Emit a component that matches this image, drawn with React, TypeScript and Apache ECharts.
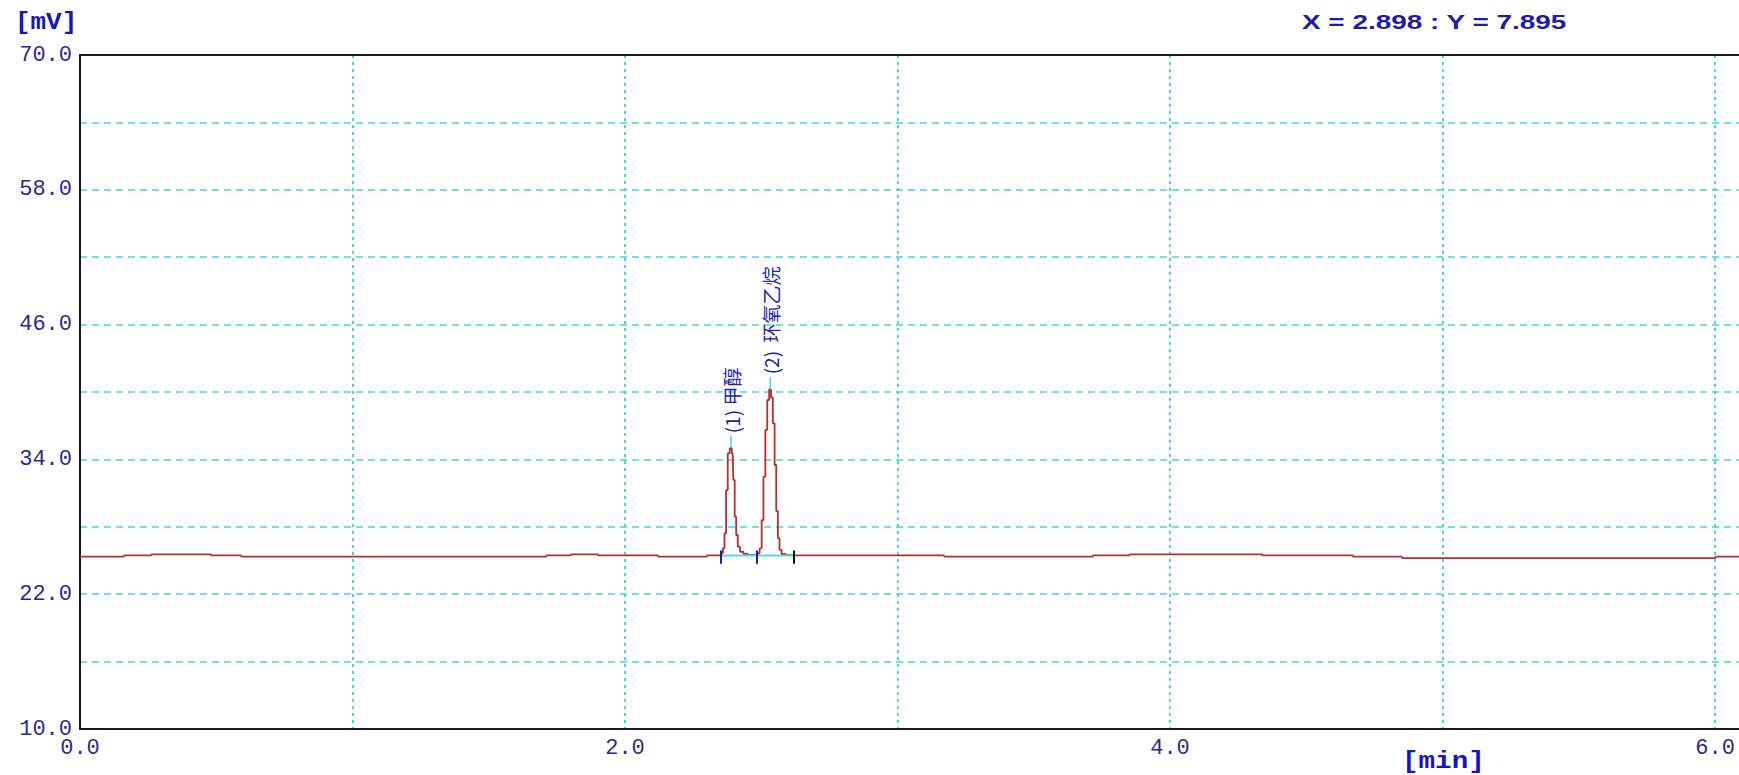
import React, { useEffect, useRef } from "react";
import * as echarts from "echarts";

// ---- axis ticks / labels ----
const xMin = 0;
const xMax = 6.088;
const xStep = 1;
const xLabelValues = [0, 2, 4, 6];
const yMin = 10;
const yMax = 70;
const yStep = 6;
const yLabelValues = [10, 22, 34, 46, 58, 70];

// ---- signal (time in min, value in mV) ----
const baselineBeforeTime = [0, 0.16, 0.165, 0.26, 0.265, 0.48, 0.485, 0.59, 0.595, 1.71, 1.715, 1.8, 1.805, 1.9, 1.905, 2.12, 2.125, 2.3, 2.305, 2.35];
const baselineBeforeValue = [25.34, 25.34, 25.45, 25.45, 25.55, 25.55, 25.45, 25.45, 25.34, 25.34, 25.45, 25.45, 25.55, 25.55, 25.45, 25.45, 25.34, 25.34, 25.45, 25.45];

const peak1Time = [2.356, 2.362, 2.368, 2.374, 2.38, 2.389, 2.395, 2.4, 2.405, 2.411, 2.417, 2.427, 2.442, 2.46, 2.484];
const peak1Value = [25.64, 26.08, 27.42, 31.27, 34.54, 35.0, 34.54, 32.17, 28.9, 27.27, 26.23, 25.78, 25.58, 25.5, 25.48];

const peak2Time = [2.49, 2.498, 2.505, 2.511, 2.519, 2.525, 2.533, 2.539, 2.546, 2.552, 2.558, 2.564, 2.57, 2.579, 2.6, 2.62];
const peak2Value = [25.64, 26.08, 28.6, 32.46, 36.62, 39.29, 40.24, 39.5, 37.2, 33.5, 29.4, 27.0, 25.95, 25.58, 25.47, 25.45];

const baselineAfterTime = [3.17, 3.175, 3.716, 3.72, 3.85, 3.855, 4.338, 4.343, 4.67, 4.675, 4.85, 4.855, 6.0, 6.005, 6.088];
const baselineAfterValue = [25.45, 25.34, 25.34, 25.45, 25.45, 25.55, 25.55, 25.45, 25.45, 25.34, 25.34, 25.22, 25.22, 25.34, 25.34];

// ---- peak annotations ----
const peakApexTime = [2.389, 2.533];
const peakApexValue = [35.0, 40.24];
const peakNames = ["(1) 甲醇", "(2)  环氧乙烷"];

// ---- integration marks ----
const integrationLevel = 25.45;
const integrationMarkTime = [2.35, 2.484, 2.619];
const integrationMarkLow = 24.7;
const integrationMarkHigh = 25.9;

const cursorText = "X = 2.898 : Y = 7.895";
const yUnit = "[mV]";
const xUnit = "[min]";

function zip(t: number[], v: number[]) {
  return t.map((x, i) => [x, v[i]]);
}

export default function App() {
  const ref = useRef<HTMLDivElement>(null);

  useEffect(() => {
    if (!ref.current) return;
    const chart = echarts.init(ref.current, null, { renderer: "svg" });

    const signal = [
      ...zip(baselineBeforeTime, baselineBeforeValue),
      ...zip(peak1Time, peak1Value),
      ...zip(peak2Time, peak2Value),
      ...zip(baselineAfterTime, baselineAfterValue),
    ];

    const markColors = ["#1c1ca0", "#1c1ca0", "#111111"];
    const labelColor = "#2a2a8c";
    const cyan = "#44d8d8";
    const frame = "#1a1a1a";

    chart.setOption({
      animation: false,
      backgroundColor: "#ffffff",
      grid: {
        left: 80,
        top: 55,
        right: 0,
        bottom: 46,
        show: false,
      },
      xAxis: [
        {
          type: "value",
          min: xMin,
          max: xMax,
          interval: xStep,
          axisLine: { show: true, onZero: false, lineStyle: { color: frame, width: 2 } },
          axisTick: { show: false },
          axisLabel: {
            color: labelColor,
            fontFamily: "Liberation Mono",
            fontSize: 22,
            margin: 8,
            showMaxLabel: false,
            formatter: (v: number) =>
              xLabelValues.some((x) => Math.abs(x - v) < 1e-9) ? v.toFixed(1) : "",
          },
          splitLine: {
            show: true,
            showMinLine: false,
            showMaxLine: false,
            lineStyle: { color: cyan, type: [3, 4], width: 2 },
          },
        },
        {
          type: "value",
          position: "top",
          min: xMin,
          max: xMax,
          interval: xStep,
          axisLine: { show: true, onZero: false, lineStyle: { color: frame, width: 2 } },
          axisTick: { show: false },
          axisLabel: { show: false },
          splitLine: { show: false },
        },
      ],
      yAxis: {
        type: "value",
        min: yMin,
        max: yMax,
        interval: yStep,
        axisLine: { show: true, lineStyle: { color: frame, width: 2 } },
        axisTick: { show: false },
        axisLabel: {
          color: labelColor,
          fontFamily: "Liberation Mono",
          fontSize: 22,
          margin: 8,
          formatter: (v: number) =>
            yLabelValues.some((y) => Math.abs(y - v) < 1e-9) ? v.toFixed(1) : "",
        },
        splitLine: {
          show: true,
          showMinLine: false,
          showMaxLine: false,
          lineStyle: { color: cyan, type: [7, 5], width: 1.5 },
        },
      },
      series: [
        {
          type: "line",
          data: signal,
          step: "middle",
          symbol: "none",
          lineStyle: { color: "#b5302c", width: 1.8 },
          z: 3,
          markPoint: {
            symbol: "rect",
            symbolSize: [1.5, 12],
            symbolOffset: [0, -6],
            itemStyle: { color: cyan },
            silent: true,
            label: {
              show: true,
              position: "top",
              distance: 3,
              rotate: 90,
              align: "left",
              verticalAlign: "middle",
              color: "#2424a8",
              fontSize: 19,
              fontFamily: "Noto Sans CJK SC",
              formatter: (p: any) => p.name,
            },
            data: peakNames.map((n, i) => ({
              name: n,
              coord: [peakApexTime[i], peakApexValue[i]],
            })),
          },
        },
        {
          type: "line",
          data: [
            [integrationMarkTime[0], integrationLevel],
            [integrationMarkTime[integrationMarkTime.length - 1], integrationLevel],
          ],
          symbol: "none",
          lineStyle: { color: "#52dede", width: 2 },
          z: 4,
          markLine: {
            symbol: "none",
            silent: true,
            label: { show: false },
            data: integrationMarkTime.map((t, i) => [
              { coord: [t, integrationMarkLow], lineStyle: { color: markColors[i], width: 2, type: "solid" } },
              { coord: [t, integrationMarkHigh] },
            ]),
          },
        },
      ],
      graphic: [
        {
          type: "text",
          x: 15,
          y: 22,
          scaleX: 1.08,
          style: {
            text: yUnit,
            fill: "#1414c4",
            font: 'bold 24px "Liberation Mono"',
            verticalAlign: "middle",
            align: "left",
          },
        },
        {
          type: "text",
          x: 1402,
          y: 762,
          scaleX: 1.15,
          style: {
            text: xUnit,
            fill: "#1414c4",
            font: 'bold 24px "Liberation Mono"',
            verticalAlign: "middle",
            align: "left",
          },
        },
        {
          type: "text",
          x: 1302,
          y: 22,
          scaleX: 1.33,
          style: {
            text: cursorText,
            fill: "#1c1ca8",
            font: 'bold 21px "Liberation Sans"',
            verticalAlign: "middle",
            align: "left",
          },
        },
      ],
    });

    return () => chart.dispose();
  }, []);

  return (
    <div
      ref={ref}
      style={{ position: "fixed", left: 0, top: 0, width: 1739, height: 775, background: "#fff" }}
    />
  );
}
